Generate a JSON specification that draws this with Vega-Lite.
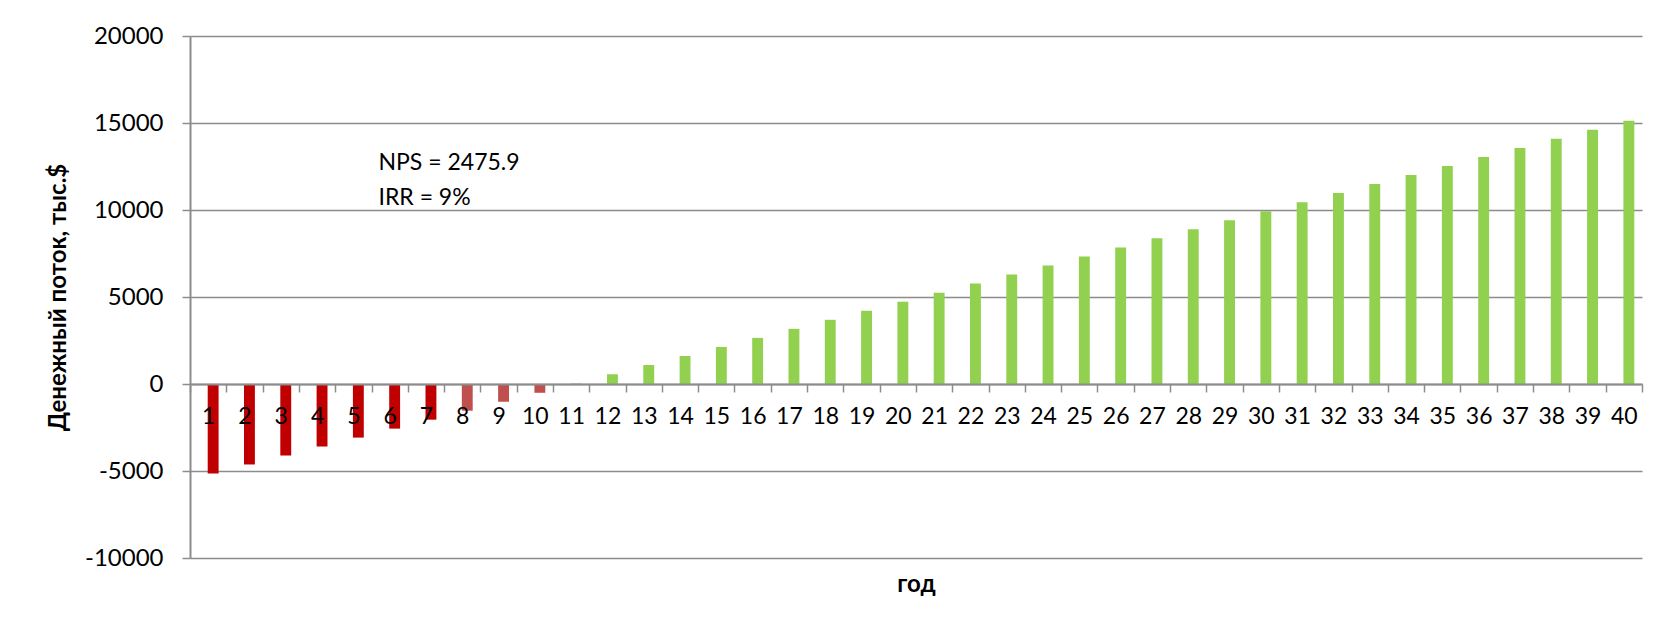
{
  "$schema": "https://vega.github.io/schema/vega-lite/v6.json",
  "autosize": "none",
  "width": 1452,
  "height": 522,
  "padding": {"left": 190, "top": 36, "right": 14, "bottom": 70},
  "background": "white",
  "config": {
    "font": "Lato",
    "view": {"stroke": null}
  },
  "layer": [
    {
      "data": {
        "values": [
          {"year": 1, "flow": -5140}, {"year": 2, "flow": -4625}, {"year": 3, "flow": -4110},
          {"year": 4, "flow": -3595}, {"year": 5, "flow": -3080}, {"year": 6, "flow": -2565},
          {"year": 7, "flow": -2050}, {"year": 8, "flow": -1535}, {"year": 9, "flow": -1020},
          {"year": 10, "flow": -505}, {"year": 11, "flow": 30}, {"year": 12, "flow": 560},
          {"year": 13, "flow": 1090}, {"year": 14, "flow": 1610}, {"year": 15, "flow": 2130},
          {"year": 16, "flow": 2650}, {"year": 17, "flow": 3170}, {"year": 18, "flow": 3690},
          {"year": 19, "flow": 4210}, {"year": 20, "flow": 4730}, {"year": 21, "flow": 5250},
          {"year": 22, "flow": 5770}, {"year": 23, "flow": 6290}, {"year": 24, "flow": 6810},
          {"year": 25, "flow": 7330}, {"year": 26, "flow": 7850}, {"year": 27, "flow": 8370},
          {"year": 28, "flow": 8890}, {"year": 29, "flow": 9410}, {"year": 30, "flow": 9930},
          {"year": 31, "flow": 10450}, {"year": 32, "flow": 10970}, {"year": 33, "flow": 11490},
          {"year": 34, "flow": 12010}, {"year": 35, "flow": 12530}, {"year": 36, "flow": 13050},
          {"year": 37, "flow": 13570}, {"year": 38, "flow": 14090}, {"year": 39, "flow": 14610},
          {"year": 40, "flow": 15130}
        ]
      },
      "mark": {"type": "bar", "width": {"band": 0.3}, "xOffset": 5},
      "encoding": {
        "x": {
          "field": "year",
          "type": "ordinal",
          "scale": {"paddingInner": 0, "paddingOuter": 0},
          "axis": {
            "title": "год",
            "titleFont": "Lato",
            "titleFontSize": 24,
            "titleFontWeight": "bold",
            "titleColor": "black",
            "titleY": 188,
            "offset": -174,
            "labelAngle": 0,
            "labelFont": "Lato",
            "labelFontSize": 23,
            "labelColor": "black",
            "labelPadding": 13,
            "tickBand": "extent",
            "tickSize": 8,
            "tickColor": "#8c8c8c",
            "tickWidth": 1.5,
            "domainColor": "#8c8c8c",
            "domainWidth": 2,
            "grid": false,
            "zindex": 1
          }
        },
        "y": {
          "field": "flow",
          "type": "quantitative",
          "scale": {"domain": [-10000, 20000], "nice": false},
          "axis": {
            "title": "Денежный поток, тыс.$",
            "titleFont": "Lato",
            "titleFontSize": 24,
            "titleFontWeight": "bold",
            "titleColor": "black",
            "titlePadding": 14,
            "values": [-10000, -5000, 0, 5000, 10000, 15000, 20000],
            "labelExpr": "'' + datum.value",
            "labelFont": "Lato",
            "labelFontSize": 24,
            "labelColor": "black",
            "labelPadding": 19,
            "tickSize": 8,
            "tickColor": "#8c8c8c",
            "tickWidth": 1.5,
            "domainColor": "#8c8c8c",
            "domainWidth": 2,
            "gridColor": "#8c8c8c",
            "gridWidth": 1.5
          }
        },
        "color": {
          "condition": [
            {"test": "datum.year <= 7", "value": "#C00000"},
            {"test": "datum.year <= 10", "value": "#C0504D"}
          ],
          "value": "#92D050"
        }
      }
    },
    {
      "data": {
        "values": [
          {"year": 6, "flow": 12700, "label": "NPS = 2475.9"},
          {"year": 6, "flow": 10700, "label": "IRR = 9%"}
        ]
      },
      "mark": {"type": "text", "align": "left", "baseline": "middle", "dx": 7, "font": "Lato", "fontSize": 23, "color": "black"},
      "encoding": {
        "x": {"field": "year", "type": "ordinal", "bandPosition": 0},
        "y": {"field": "flow", "type": "quantitative"},
        "text": {"field": "label"}
      }
    }
  ]
}
